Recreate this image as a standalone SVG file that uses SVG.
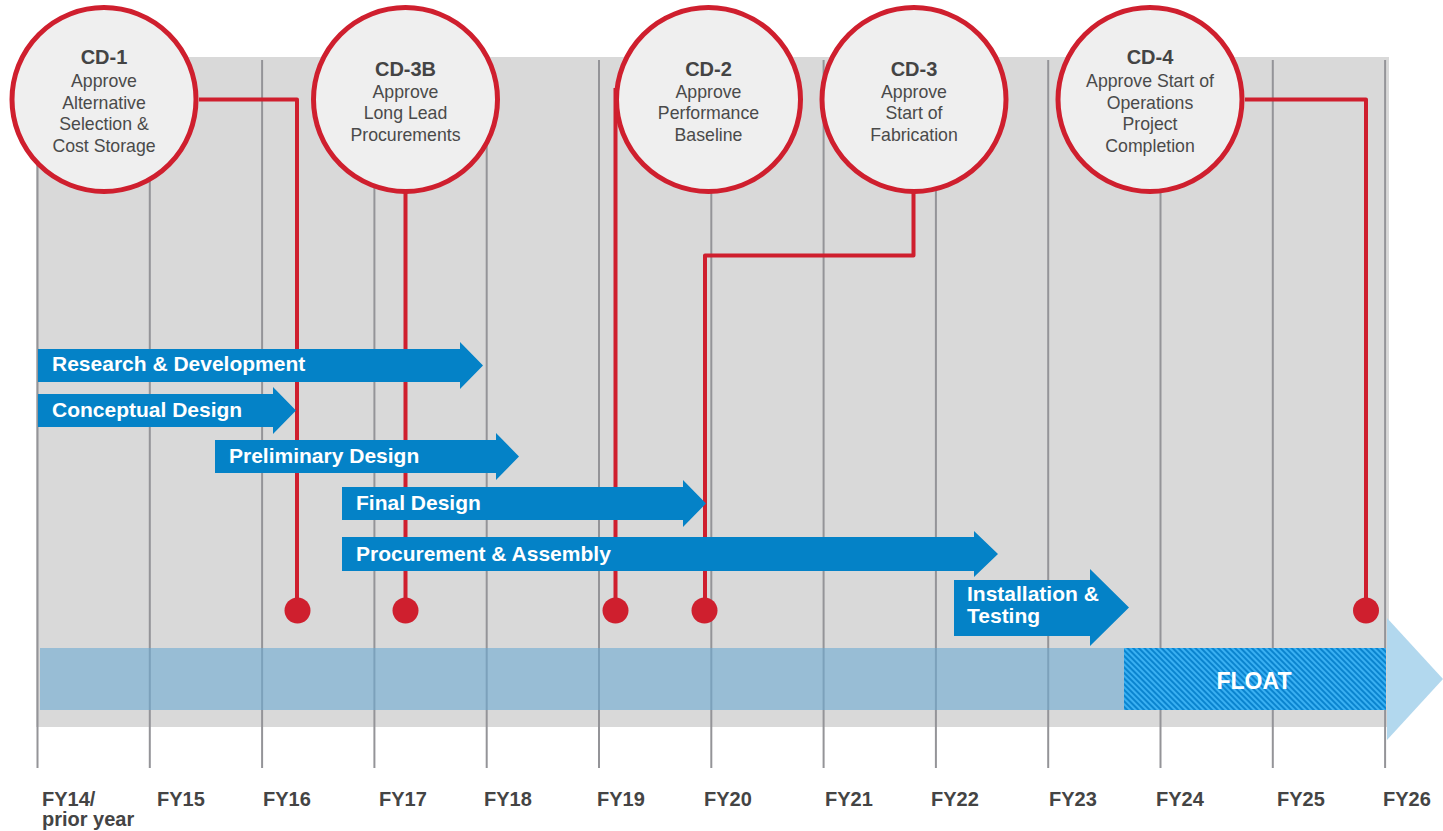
<svg xmlns="http://www.w3.org/2000/svg" width="1443" height="831" viewBox="0 0 1443 831">
<style>
.grid{stroke:#949498;stroke-width:2}
.conn{fill:none;stroke:#cf1f2e;stroke-width:4;stroke-linejoin:round}
.dot{fill:#cf1f2e}
.ms circle{fill:#efefef;stroke:#cf1f2e;stroke-width:5}
.t1{font-family:"Liberation Sans",Arial,sans-serif;font-weight:bold;font-size:20px;fill:#444;text-anchor:middle}
.t2{font-family:"Liberation Sans",Arial,sans-serif;font-size:17.7px;fill:#4a4a4a;text-anchor:middle}
.bar polygon{fill:#0482c7}
.bl{font-family:"Liberation Sans",Arial,sans-serif;font-weight:bold;font-size:21px;fill:#fff}
.yr{font-family:"Liberation Sans",Arial,sans-serif;font-weight:bold;font-size:20px;fill:#444}
</style>
<defs>
<pattern id="hatch" width="4" height="4" patternUnits="userSpaceOnUse" patternTransform="rotate(-45)">
<rect width="4" height="4" fill="#0a84cf"/>
<rect width="2" height="4" fill="#3ab0f2"/>
</pattern>
</defs>
<g id="background">
<rect x="36" y="57" width="1353" height="670" fill="#d9d9d9"/>
<g id="gridlines">
<line class="grid" x1="37.5" y1="60" x2="37.5" y2="768"/>
<line class="grid" x1="149.8" y1="60" x2="149.8" y2="768"/>
<line class="grid" x1="262.1" y1="60" x2="262.1" y2="768"/>
<line class="grid" x1="374.4" y1="60" x2="374.4" y2="768"/>
<line class="grid" x1="486.7" y1="60" x2="486.7" y2="768"/>
<line class="grid" x1="599" y1="60" x2="599" y2="768"/>
<line class="grid" x1="711.3" y1="60" x2="711.3" y2="768"/>
<line class="grid" x1="823.6" y1="60" x2="823.6" y2="768"/>
<line class="grid" x1="935.9" y1="60" x2="935.9" y2="768"/>
<line class="grid" x1="1048.2" y1="60" x2="1048.2" y2="768"/>
<line class="grid" x1="1160.5" y1="60" x2="1160.5" y2="768"/>
<line class="grid" x1="1272.8" y1="60" x2="1272.8" y2="768"/>
<line class="grid" x1="1385.1" y1="60" x2="1385.1" y2="768"/>
</g>
</g>
<g id="float">
<rect x="40" y="648" width="1084" height="62" fill="#6daad2" fill-opacity="0.6"/>
<polygon points="1387,618 1443,679 1387,740" fill="#b2d8ee"/>
<rect x="1124" y="648" width="262" height="62" fill="url(#hatch)"/>
<text x="1254" y="689" text-anchor="middle" font-family="'Liberation Sans',Arial,sans-serif" font-weight="bold" font-size="23" fill="#fff">FLOAT</text>
</g>
<g id="connectors">
<polyline class="conn" points="199,99.5 297,99.5 297,610"/>
<polyline class="conn" points="405.5,190 405.5,610"/>
<polyline class="conn" points="615.5,88 615.5,610"/>
<polyline class="conn" points="913.5,190 913.5,255.5 705,255.5 705,610"/>
<polyline class="conn" points="1245,99.5 1366,99.5 1366,610"/>
<circle class="dot" cx="297.5" cy="610.5" r="13"/>
<circle class="dot" cx="405.5" cy="610.5" r="13"/>
<circle class="dot" cx="615.5" cy="610.5" r="13"/>
<circle class="dot" cx="704.5" cy="610.5" r="13"/>
<circle class="dot" cx="1366" cy="610.5" r="13"/>
</g>
<g id="cd1" class="ms">
<circle cx="104" cy="99.5" r="92"/>
<text class="t1" x="104" y="64">CD-1</text>
<text class="t2" x="104" y="87">Approve</text>
<text class="t2" x="104" y="108.5">Alternative</text>
<text class="t2" x="104" y="130">Selection &amp;</text>
<text class="t2" x="104" y="151.5">Cost Storage</text>
</g>
<g id="cd3b" class="ms">
<circle cx="405.5" cy="99.5" r="92"/>
<text class="t1" x="405.5" y="76">CD-3B</text>
<text class="t2" x="405.5" y="97.5">Approve</text>
<text class="t2" x="405.5" y="119">Long Lead</text>
<text class="t2" x="405.5" y="140.5">Procurements</text>
</g>
<g id="cd2" class="ms">
<circle cx="708.5" cy="99.5" r="92"/>
<text class="t1" x="708.5" y="76">CD-2</text>
<text class="t2" x="708.5" y="97.5">Approve</text>
<text class="t2" x="708.5" y="119">Performance</text>
<text class="t2" x="708.5" y="140.5">Baseline</text>
</g>
<g id="cd3" class="ms">
<circle cx="914" cy="99.5" r="92"/>
<text class="t1" x="914" y="76">CD-3</text>
<text class="t2" x="914" y="97.5">Approve</text>
<text class="t2" x="914" y="119">Start of</text>
<text class="t2" x="914" y="140.5">Fabrication</text>
</g>
<g id="cd4" class="ms">
<circle cx="1150" cy="99.5" r="92"/>
<text class="t1" x="1150" y="64">CD-4</text>
<text class="t2" x="1150" y="87">Approve Start of</text>
<text class="t2" x="1150" y="108.5">Operations</text>
<text class="t2" x="1150" y="130">Project</text>
<text class="t2" x="1150" y="151.5">Completion</text>
</g>
<g id="rd" class="bar">
<polygon points="38,349 460,349 460,342 483,365.5 460,389 460,382 38,382"/>
<text class="bl" x="52" y="371">Research &amp; Development</text>
</g>
<g id="conceptual" class="bar">
<polygon points="38,394 273,394 273,387 296,410.5 273,434 273,427 38,427"/>
<text class="bl" x="52" y="416.5">Conceptual Design</text>
</g>
<g id="preliminary" class="bar">
<polygon points="215,440 496,440 496,433 519,456.5 496,480 496,473 215,473"/>
<text class="bl" x="229" y="463">Preliminary Design</text>
</g>
<g id="final" class="bar">
<polygon points="342,487 683,487 683,480 706,503.5 683,527 683,520 342,520"/>
<text class="bl" x="356" y="510">Final Design</text>
</g>
<g id="procurement" class="bar">
<polygon points="342,537 974,537 974,531 998,554 974,577 974,571 342,571"/>
<text class="bl" x="356" y="560.5">Procurement &amp; Assembly</text>
</g>
<g id="installation" class="bar">
<polygon points="954,580 1090,580 1090,569 1129,607.5 1090,646 1090,636 954,636"/>
<text class="bl" x="967" y="601">Installation &amp;</text>
<text class="bl" x="967" y="622.5">Testing</text>
</g>
<g id="years">
<text class="yr" x="42" y="806">FY14/</text>
<text class="yr" x="42" y="826">prior year</text>
<text class="yr" x="157" y="806">FY15</text>
<text class="yr" x="263" y="806">FY16</text>
<text class="yr" x="379" y="806">FY17</text>
<text class="yr" x="484" y="806">FY18</text>
<text class="yr" x="597" y="806">FY19</text>
<text class="yr" x="704" y="806">FY20</text>
<text class="yr" x="825" y="806">FY21</text>
<text class="yr" x="931" y="806">FY22</text>
<text class="yr" x="1049" y="806">FY23</text>
<text class="yr" x="1156" y="806">FY24</text>
<text class="yr" x="1277" y="806">FY25</text>
<text class="yr" x="1383" y="806">FY26</text>
</g>
</svg>
